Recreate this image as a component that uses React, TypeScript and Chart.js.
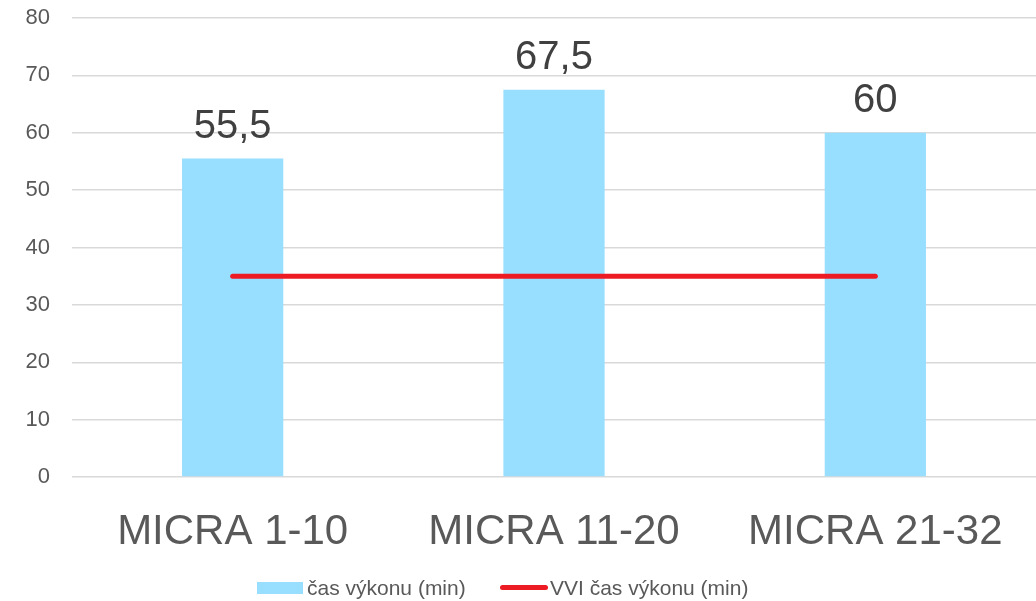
import React, { useEffect, useRef } from "react";
import { Chart, registerables } from "chart.js";

Chart.register(...registerables);

const categories = ["MICRA 1-10", "MICRA 11-20", "MICRA 21-32"];
const barValues = [55.5, 67.5, 60];
const lineValues = [35, 35, 35];
const barLabel = "čas výkonu (min)";
const lineLabel = "VVI čas výkonu (min)";

const FONT = "'Liberation Sans', Arial, sans-serif";
const BAR_COLOR = "rgb(151,222,255)";
const LINE_COLOR = "rgb(237,28,36)";
const TEXT_COLOR = "#595959";

const valueLabels = {
  id: "valueLabels",
  afterDatasetsDraw(chart: any) {
    const ctx = chart.ctx;
    const meta = chart.getDatasetMeta(0);
    const data = chart.data.datasets[0].data as number[];
    ctx.save();
    ctx.font = `40px ${FONT}`;
    ctx.fillStyle = "#404040";
    ctx.textAlign = "center";
    ctx.textBaseline = "alphabetic";
    meta.data.forEach((el: any, i: number) => {
      const txt = String(data[i]).replace(".", ",");
      ctx.fillText(txt, el.x, el.y - 21);
    });
    ctx.restore();
  },
};

export default function App() {
  const ref = useRef<HTMLCanvasElement>(null);
  useEffect(() => {
    document.body.style.margin = "0";
    const chart = new Chart(ref.current!, {
      type: "bar",
      data: {
        labels: categories,
        datasets: [
          {
            type: "bar",
            label: barLabel,
            data: barValues,
            backgroundColor: BAR_COLOR,
            barPercentage: 0.315,
            categoryPercentage: 1,
            order: 1,
          },
          {
            type: "line",
            label: lineLabel,
            data: lineValues,
            borderColor: LINE_COLOR,
            borderWidth: 5,
            borderCapStyle: "round",
            pointRadius: 0,
            order: 0,
          } as any,
        ],
      },
      options: {
        animation: false,
        responsive: false,
        maintainAspectRatio: false,
        layout: { padding: { top: 18, right: 0, left: 0, bottom: 44 } },
        plugins: {
          legend: { display: false },
          tooltip: { enabled: false },
        },
        scales: {
          x: {
            grid: { display: false },
            border: { display: false },
            ticks: {
              color: TEXT_COLOR,
              font: { family: FONT, size: 42 },
              padding: 22,
            },
            afterFit: (s: any) => {
              s.height = 80;
              s.paddingLeft = 0;
              s.paddingRight = 0;
            },
          },
          y: {
            min: 0,
            max: 80,
            grid: { color: "#d9d9d9", lineWidth: 1.5, drawTicks: false },
            border: { display: false },
            ticks: {
              stepSize: 10,
              color: TEXT_COLOR,
              font: { family: FONT, size: 22 },
              padding: 22,
            },
            afterFit: (s: any) => {
              s.width = 72;
              s.paddingTop = 0;
              s.paddingBottom = 0;
            },
          },
        },
      },
      plugins: [valueLabels],
    });
    return () => chart.destroy();
  }, []);

  return (
    <div style={{ position: "absolute", left: 0, top: 0, width: 1036, height: 601 }}>
      <canvas ref={ref} width={1036} height={601} style={{ width: 1036, height: 601 }} />
      <div
        style={{
          position: "absolute",
          left: 0,
          top: 575,
          width: 1036,
          height: 26,
          fontFamily: FONT,
          fontSize: 21,
          color: TEXT_COLOR,
        }}
      >
        <span style={{ position: "absolute", left: 257, top: 7, width: 46, height: 12, background: BAR_COLOR }} />
        <span style={{ position: "absolute", left: 307, top: 0, lineHeight: "26px", whiteSpace: "nowrap" }}>{barLabel}</span>
        <span style={{ position: "absolute", left: 500, top: 10, width: 48, height: 5, borderRadius: 3, background: LINE_COLOR }} />
        <span style={{ position: "absolute", left: 550, top: 0, lineHeight: "26px", whiteSpace: "nowrap" }}>{lineLabel}</span>
      </div>
    </div>
  );
}
